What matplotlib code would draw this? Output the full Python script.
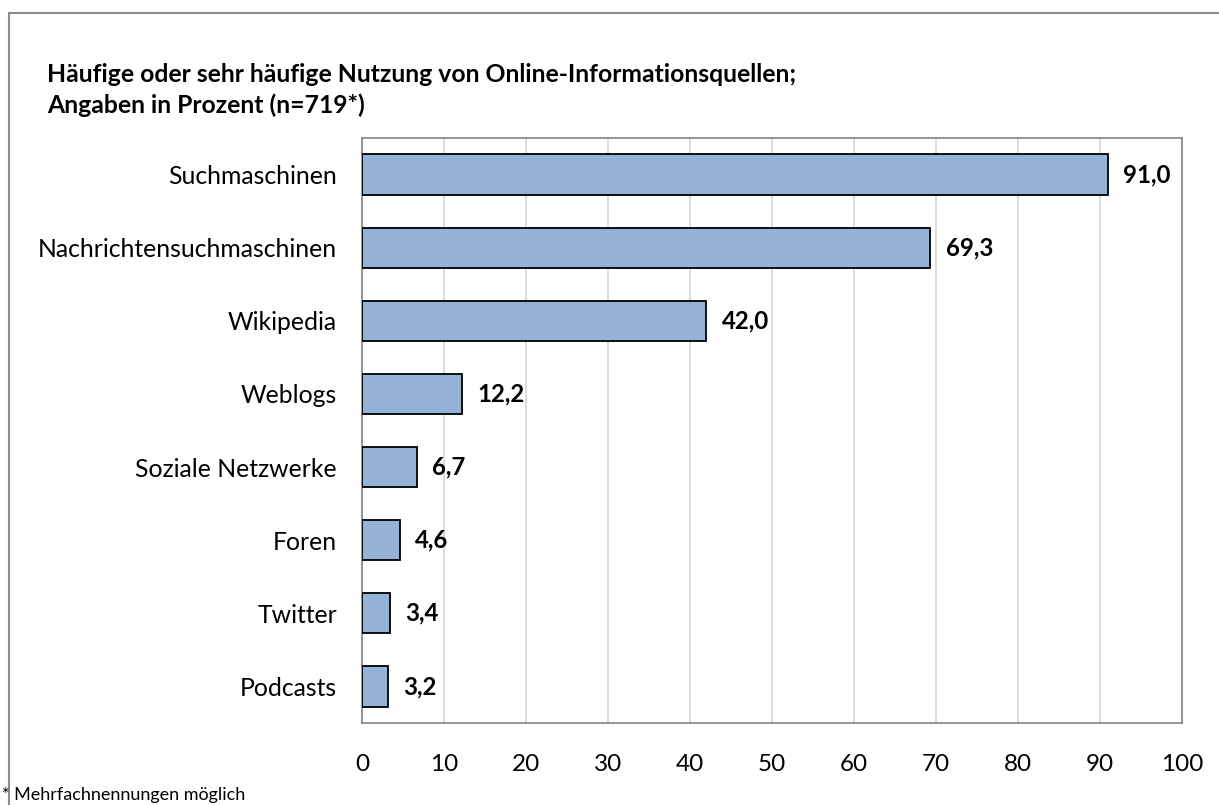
import numpy as np
import matplotlib.pyplot as plt
from matplotlib.lines import Line2D

categories = ["Suchmaschinen", "Nachrichtensuchmaschinen", "Wikipedia", "Weblogs",
              "Soziale Netzwerke", "Foren", "Twitter", "Podcasts"]
values = [91.0, 69.3, 42.0, 12.2, 6.7, 4.6, 3.4, 3.2]
xticks = [0, 10, 20, 30, 40, 50, 60, 70, 80, 90, 100]

TITLE = ("Häufige oder sehr häufige Nutzung von Online-Informationsquellen;\n"
         "Angaben in Prozent (n=719*)")
FOOTNOTE = "* Mehrfachnennungen möglich"

plt.rcParams["font.family"] = ["Lato", "DejaVu Sans"]

W, H = 1219, 805
fig = plt.figure(figsize=(W / 100, H / 100), dpi=100)

# axes box in pixel coords: left 362, right 1182, top 138, bottom 723
ax = fig.add_axes([362 / W, 1 - 723 / H, (1182 - 362) / W, (723 - 138) / H])

y = np.arange(len(categories))
ax.barh(y, values, height=0.55, color="#95B3D7", edgecolor="black", linewidth=1.3, zorder=3)
ax.set_ylim(len(categories) - 0.5, -0.5)
ax.set_xlim(0, 100)
ax.set_xticks(xticks)
ax.set_xticklabels([str(t) for t in xticks], fontsize=17.5)
ax.set_yticks(y)
ax.set_yticklabels(categories, fontsize=17.8)
ax.tick_params(axis="both", length=0)
ax.tick_params(axis="x", pad=22)
ax.tick_params(axis="y", pad=18)
ax.grid(axis="x", color="#D9D9D9", linewidth=1.3, zorder=0)
for s in ax.spines.values():
    s.set_color("#8C8C8C")
    s.set_linewidth(1.3)

for yi, v in zip(y, values):
    ax.annotate(f"{v:.1f}".replace(".", ","), (v, yi), xytext=(11, 0),
                textcoords="offset points", va="center", ha="left",
                fontsize=17.3, fontweight="bold")

fig.text(47 / W, 1 - 63 / H, TITLE, fontsize=17.8, fontweight="bold",
         ha="left", va="top", linespacing=1.4)
fig.text(2 / W, 1 - 795 / H, FOOTNOTE, fontsize=13, ha="left", va="center")

# outer chart border (top and left visible)
fig.add_artist(Line2D([9 / W, 9 / W], [0, 1 - 13 / H], color="#8C8C8C", linewidth=1.5))
fig.add_artist(Line2D([9 / W, 1], [1 - 13 / H, 1 - 13 / H], color="#8C8C8C", linewidth=1.5))

fig.savefig("out.png", dpi=100)
